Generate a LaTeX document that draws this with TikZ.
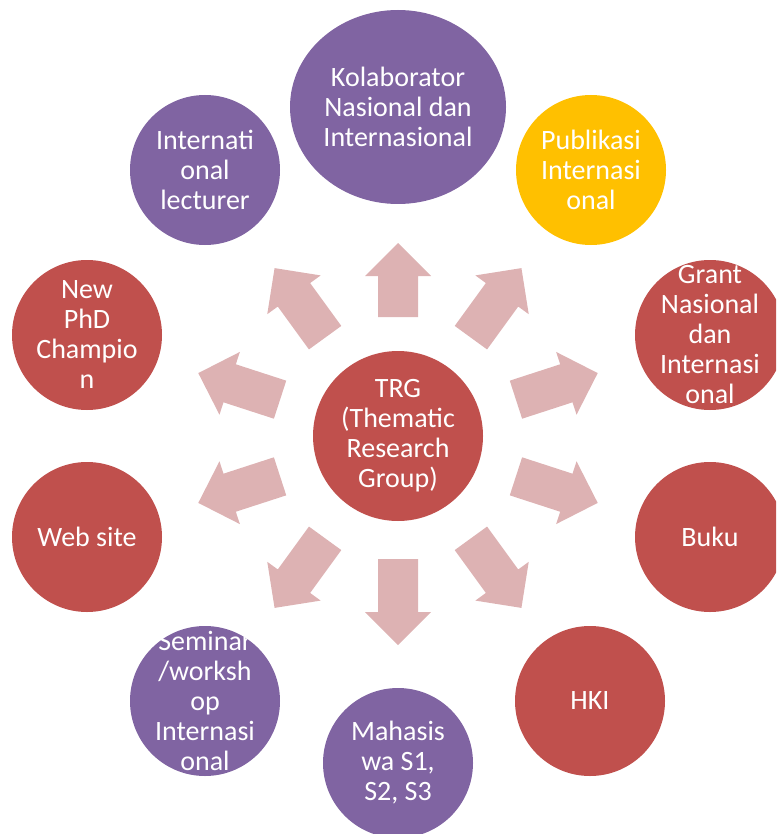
\documentclass[tikz,border=0pt]{standalone}
\usepackage{fontspec}
\setmainfont{Carlito}
\usetikzlibrary{shapes.geometric}
\definecolor{cpurple}{HTML}{8064A2}
\definecolor{cred}{HTML}{C0504D}
\definecolor{cgold}{HTML}{FFC000}
\definecolor{carrow}{HTML}{DDB2B3}
\newcommand\blockarr[3]{%
  \fill[blockarrow, shift={(ctr)}, rotate=#1]
    (#2,-20) -- ({#3-33},-20) -- ({#3-33},-33) -- (#3,0) --
    ({#3-33},33) -- ({#3-33},20) -- (#2,20) -- cycle;}
\begin{document}
\begin{tikzpicture}[x=1pt,y=-1pt,
  disc/.style={circle, minimum size=150pt, inner sep=0pt},
  txt/.style={text=white, align=center, inner sep=0pt,
    font=\fontsize{28}{30}\selectfont},
  blockarrow/.style={fill=carrow}]
\useasboundingbox (0,0) rectangle (776,834);
\clip (0,0) rectangle (776,834);
\coordinate (ctr) at (398,438);
% block arrows
\blockarr{90}{121}{195}
\blockarr{54}{124}{210}
\blockarr{18}{124}{210}
\blockarr{-18}{124}{210}
\blockarr{-54}{124}{210}
\blockarr{-90}{121}{207}
\blockarr{-126}{124}{210}
\blockarr{-162}{124}{210}
\blockarr{162}{124}{210}
\blockarr{126}{124}{210}
% center
\node[disc, fill=cred, minimum size=170pt] (trg) at (398,436) {};
\node[txt] at (trg) {TRG\\(Thematic\\Research\\Group)};
% outer
\node[ellipse, inner sep=0pt, fill=cpurple, minimum width=216pt, minimum height=194pt] (kol) at (398,107) {};
\node[txt] at (kol) {Kolaborator\\Nasional dan\\Internasional};
\node[disc, fill=cgold] (pub) at (591,170) {};
\node[txt] at (pub) {Publikasi\\Internasi\\onal};
\node[disc, fill=cred] (grant) at (710,335) {};
\node[txt] at (grant) {Grant\\Nasional\\dan\\Internasi\\onal};
\node[disc, fill=cred] (buku) at (710,537) {};
\node[txt] at (buku) {Buku};
\node[disc, fill=cred] (hki) at (590,701) {};
\node[txt] at (hki) {HKI};
\node[disc, fill=cpurple] (mhs) at (398,763) {};
\node[txt] at (mhs) {Mahasis\\wa S1,\\S2, S3};
\node[disc, fill=cpurple] (sem) at (205,701) {};
\node[txt] at (sem) {Seminar\\/worksh\\op\\Internasi\\onal};
\node[disc, fill=cred] (web) at (87,537) {};
\node[txt] at (web) {Web site};
\node[disc, fill=cred] (phd) at (87,335) {};
\node[txt] at (phd) {New\\PhD\\Champio\\n};
\node[disc, fill=cpurple] (intl) at (205,170) {};
\node[txt] at (intl) {Internati\\onal\\lecturer};
\end{tikzpicture}
\end{document}
